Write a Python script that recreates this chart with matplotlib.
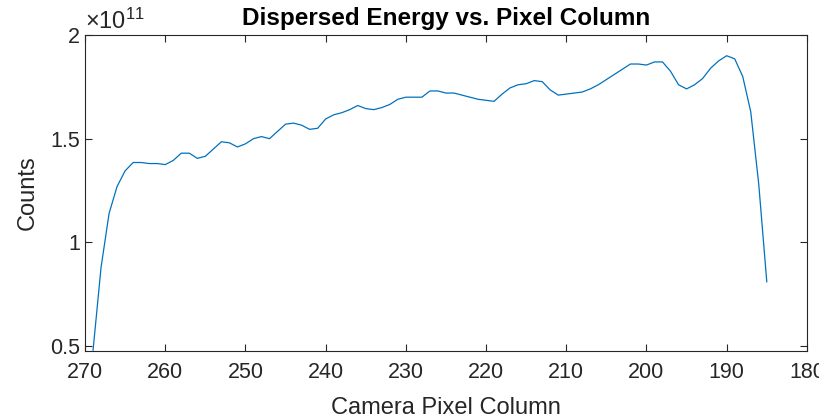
import numpy as np
import matplotlib
matplotlib.use("Agg")
import matplotlib.pyplot as plt
from matplotlib.ticker import FuncFormatter

# camera pixel column (x) and counts in units of 1e11 (y)
pixel_col = list(range(269, 184, -1))
counts_e11 = [
    0.48, 0.88, 1.14, 1.27, 1.345, 1.385, 1.385, 1.38, 1.38, 1.375,   # 269-260
    1.395, 1.43, 1.43, 1.405, 1.415, 1.45, 1.485, 1.48, 1.46, 1.475,  # 259-250
    1.50, 1.51, 1.50, 1.535, 1.57, 1.575, 1.565, 1.545, 1.55, 1.595,  # 249-240
    1.615, 1.625, 1.64, 1.66, 1.645, 1.64, 1.65, 1.665, 1.69, 1.70,   # 239-230
    1.70, 1.70, 1.73, 1.73, 1.72, 1.72, 1.71, 1.70, 1.69, 1.685,      # 229-220
    1.68, 1.715, 1.745, 1.76, 1.765, 1.78, 1.775, 1.735, 1.71, 1.715, # 219-210
    1.72, 1.725, 1.74, 1.76, 1.785, 1.81, 1.835, 1.86, 1.86, 1.855,   # 209-200
    1.87, 1.87, 1.825, 1.76, 1.74, 1.76, 1.79, 1.84, 1.875, 1.90,     # 199-190
    1.885, 1.80, 1.63, 1.28, 0.81,                                    # 189-185
]
x_ticks = [270, 260, 250, 240, 230, 220, 210, 200, 190, 180]
y_ticks = [0.5, 1.0, 1.5, 2.0]

plt.rcParams['font.family'] = ['Liberation Sans', 'DejaVu Sans']
plt.rcParams['mathtext.fontset'] = 'custom'
plt.rcParams['mathtext.rm'] = 'Liberation Sans'
axcol = '#262626'

fig = plt.figure(figsize=(8.2, 4.19), dpi=100)
ax = fig.add_axes([0.1037, 0.1623, 0.8803, 0.7542])

counts = np.array(counts_e11) * 1e11
ax.plot(pixel_col, counts, color='#0072BD', linewidth=0.9)

ax.set_xlim(270, 180)
ax.set_ylim(0.476e11, 2e11)
ax.set_xticks(x_ticks)
ax.set_yticks([v * 1e11 for v in y_ticks])
ax.yaxis.set_major_formatter(FuncFormatter(lambda v, p: f"{v / 1e11:g}"))

ax.tick_params(direction='in', length=5, width=0.8, colors=axcol,
               labelsize=15.5, top=True, right=True)
ax.tick_params(axis='x', pad=8)
for s in ax.spines.values():
    s.set_color(axcol)
    s.set_linewidth(0.8)

ax.set_xlabel("Camera Pixel Column", fontsize=17, color=axcol, labelpad=10)
ax.set_ylabel("Counts", fontsize=17, color=axcol, labelpad=8)
ax.set_title("Dispersed Energy vs. Pixel Column", fontsize=17.5, fontweight='bold',
             color='black', pad=7)
ax.text(0.0, 1.005, r"$\mathregular{\times10^{11}}$", transform=ax.transAxes,
        fontsize=17, color=axcol, ha='left', va='bottom')

fig.savefig("out.png", dpi=100)
